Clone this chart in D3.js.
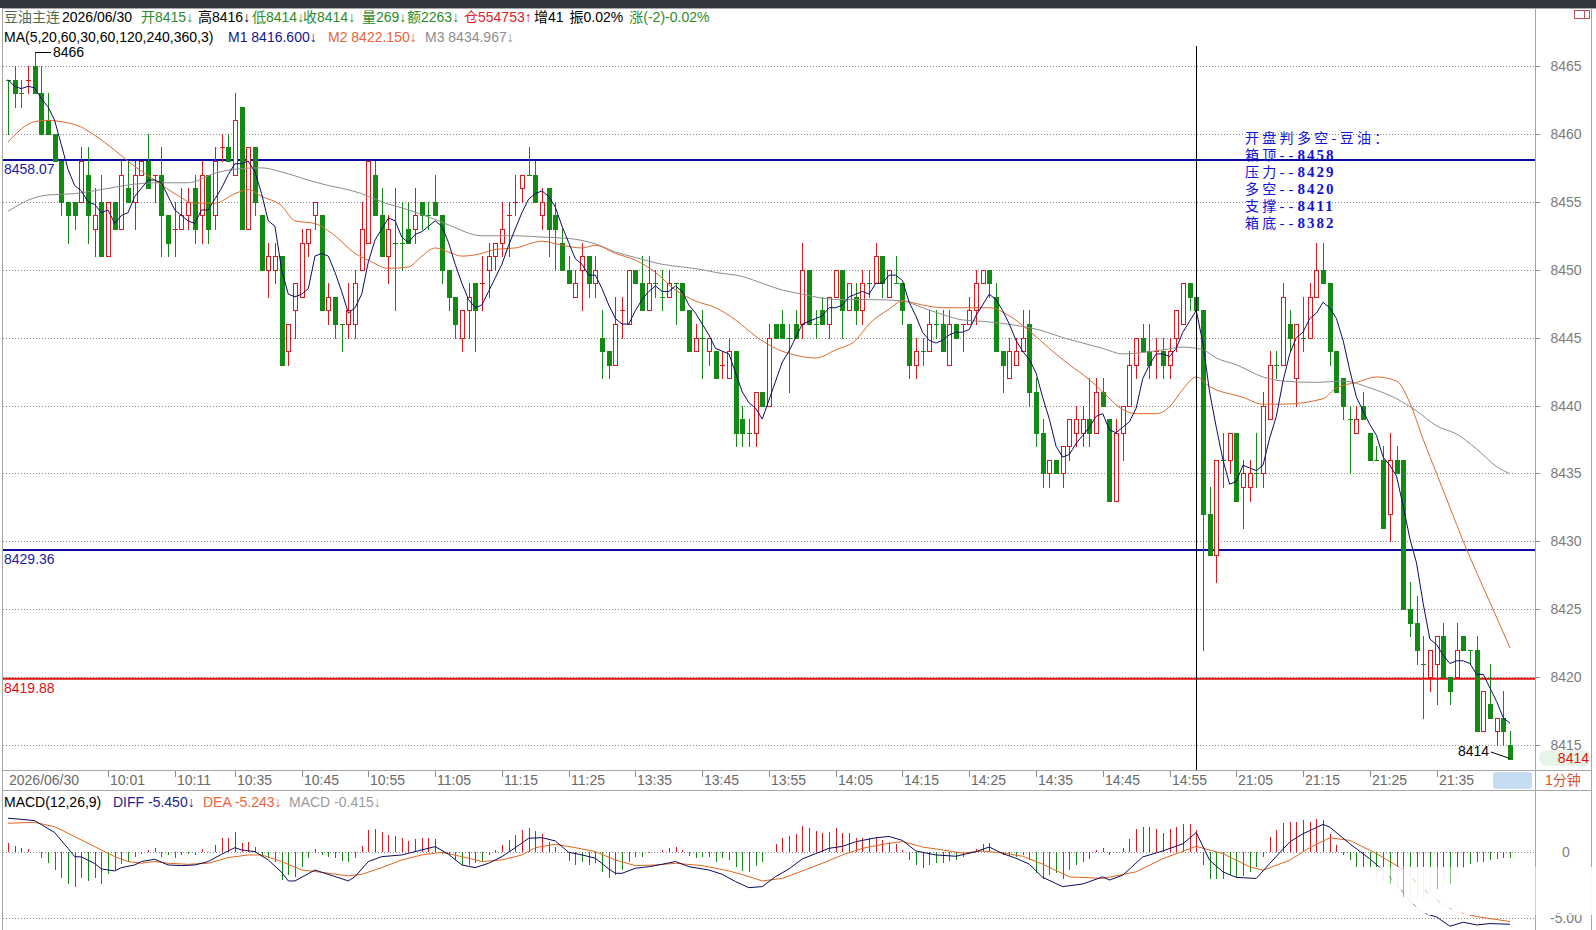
<!DOCTYPE html>
<html>
<head>
<meta charset="utf-8">
<script src="https://cdn.jsdelivr.net/npm/d3@7"></script>
<style>
  html, body { margin: 0; padding: 0; background: #fff; }
  svg { display: block; font-family: "Liberation Sans", Arial, "Noto Sans CJK SC", sans-serif; }
</style>
</head>
<body>
<svg id="chart" width="1596" height="930"></svg>
<script>
// 1-minute bars, 豆油主连 2026/06/30
const opens = [
  8464,8464,8463,8464,8465,8463,8461,8460,8458,8455, 8455,8455,8457,8453,8455,8451,8455,8453,8456,8455,
  8457,8458,8457,8457,8454,8453,8453,8454,8456,8454, 8457,8454,8459,8459,8457,8462,8453,8459,8454,8450,
  8450,8451,8444,8447,8448,8452,8454,8454,8447,8448, 8446,8446,8446,8450,8452,8457,8454,8451,8452,8452,
  8453,8453,8455,8454,8455,8454,8450,8448,8445,8447, 8449,8449,8450,8451,8452,8454,8455,8456,8457,8457,
  8454,8456,8454,8452,8450,8448,8450,8451,8449,8445, 8444,8443,8447,8446,8450,8449,8447,8449,8448,8448,
  8449,8449,8447,8444,8445,8444,8444,8443,8442,8444, 8439,8438,8438,8441,8440,8446,8446,8445,8446,8446,
  8450,8446,8447,8446,8448,8450,8447,8448,8447,8449, 8449,8451,8448,8449,8449,8446,8443,8444,8444,8446,
  8446,8443,8446,8446,8446,8447,8449,8450,8448,8444, 8442,8443,8444,8446,8441,8438,8435,8436,8435,8437,
  8438,8438,8439,8438,8441,8439,8433,8438,8440,8443, 8445,8444,8444,8444,8443,8445,8446,8449,8448,8447,
  8432,8429,8436,8436,8438,8434,8434,8435,8435,8439, 8443,8443,8446,8442,8445,8445,8448,8450,8449,8444,
  8442,8439,8438,8440,8438,8436,8436,8432,8436,8436, 8425,8424,8421,8420,8421,8423,8420,8420,8423,8422,
  8422,8416,8418,8416,8417,8415
]
const highs = [
  8464,8465,8464,8465,8466,8465,8463,8460,8458,8455, 8455,8459,8459,8456,8457,8455,8455,8458,8458,8458,
  8458,8460,8457,8459,8454,8455,8456,8456,8457,8458, 8457,8459,8460,8460,8463,8462,8459,8459,8454,8452,
  8452,8451,8446,8449,8453,8453,8455,8454,8449,8448, 8446,8449,8450,8455,8458,8458,8456,8454,8456,8455,
  8455,8456,8455,8455,8457,8454,8450,8448,8447,8449, 8449,8451,8452,8452,8455,8455,8457,8457,8459,8458,
  8456,8456,8455,8453,8451,8450,8452,8451,8451,8447, 8444,8448,8448,8450,8450,8451,8451,8450,8450,8450,
  8449,8449,8447,8446,8447,8445,8444,8444,8445,8444, 8440,8439,8441,8441,8446,8446,8447,8446,8447,8452,
  8450,8447,8448,8448,8450,8450,8449,8449,8450,8450, 8452,8451,8450,8451,8449,8446,8445,8445,8447,8447,
  8447,8447,8446,8446,8448,8450,8450,8450,8449,8444, 8445,8445,8447,8447,8442,8439,8436,8436,8437,8439,
  8440,8440,8442,8442,8442,8439,8439,8440,8444,8445, 8446,8446,8445,8445,8445,8447,8449,8449,8449,8447,
  8434,8436,8438,8438,8438,8436,8436,8438,8441,8444, 8444,8449,8447,8446,8448,8449,8452,8452,8449,8444,
  8442,8440,8440,8441,8438,8437,8437,8438,8437,8436, 8427,8426,8423,8422,8423,8424,8420,8424,8423,8422,
  8423,8419,8421,8417,8419,8416
]
const lows = [
  8460,8462,8462,8463,8463,8460,8460,8458,8454,8452, 8453,8455,8452,8451,8451,8451,8453,8453,8455,8453,
  8457,8456,8455,8451,8451,8451,8453,8453,8452,8452, 8452,8453,8458,8458,8457,8453,8453,8454,8450,8448,
  8449,8443,8443,8445,8448,8451,8453,8447,8446,8445, 8444,8445,8445,8450,8452,8454,8451,8449,8447,8450,
  8452,8452,8453,8453,8454,8449,8447,8445,8444,8445, 8444,8447,8448,8450,8451,8451,8454,8455,8457,8455,
  8453,8451,8450,8450,8449,8448,8447,8448,8448,8442, 8442,8443,8445,8446,8449,8447,8447,8448,8447,8448,
  8446,8447,8444,8444,8442,8443,8442,8442,8442,8437, 8437,8437,8437,8440,8440,8445,8445,8441,8445,8445,
  8446,8445,8446,8445,8448,8445,8447,8446,8446,8448, 8449,8448,8448,8449,8446,8442,8442,8443,8444,8445,
  8444,8443,8445,8444,8446,8446,8449,8448,8444,8441, 8442,8443,8444,8440,8437,8434,8434,8435,8434,8436,
  8437,8437,8437,8438,8440,8433,8433,8436,8440,8442, 8444,8442,8442,8442,8442,8444,8446,8447,8446,8422,
  8429,8427,8434,8435,8433,8431,8433,8434,8434,8439, 8442,8443,8444,8440,8444,8445,8448,8449,8443,8441,
  8439,8435,8438,8439,8436,8436,8431,8430,8435,8425, 8423,8421,8417,8419,8418,8420,8418,8420,8422,8421,
  8416,8416,8417,8415,8415,8414
]
const closes = [
  8464,8463,8463,8464,8463,8460,8460,8458,8455,8454, 8454,8458,8454,8454,8451,8455,8453,8457,8455,8457,
  8458,8456,8457,8454,8452,8453,8454,8455,8453,8457, 8453,8458,8459,8458,8461,8453,8459,8455,8450,8451,
  8451,8443,8446,8449,8452,8453,8455,8447,8448,8446, 8446,8447,8449,8453,8458,8454,8451,8453,8452,8452,
  8452,8454,8454,8454,8454,8450,8448,8446,8447,8448, 8447,8449,8451,8452,8453,8454,8455,8457,8457,8455,
  8455,8453,8453,8450,8449,8449,8451,8449,8450,8444, 8443,8446,8447,8450,8449,8447,8449,8449,8448,8449,
  8449,8447,8444,8445,8445,8445,8442,8443,8444,8438, 8438,8438,8441,8440,8445,8445,8445,8445,8445,8450,
  8446,8446,8446,8448,8450,8447,8449,8447,8449,8449, 8451,8449,8450,8449,8447,8443,8444,8444,8446,8446,
  8444,8446,8445,8446,8447,8449,8450,8449,8444,8443, 8444,8444,8445,8441,8438,8435,8436,8435,8437,8439,
  8439,8439,8438,8441,8440,8433,8438,8440,8443,8445, 8444,8443,8444,8443,8444,8447,8449,8448,8447,8432,
  8429,8436,8436,8438,8433,8435,8435,8435,8440,8443, 8443,8448,8445,8446,8445,8448,8450,8449,8444,8441,
  8440,8439,8439,8439,8436,8436,8431,8436,8435,8425, 8424,8422,8421,8422,8423,8420,8419,8422,8422,8422,
  8416,8419,8417,8417,8416,8414
]

// M2 and M3 as [bar index, value]
const ma20Pts = [
  [0,8459.4],[4,8460.9],[6,8461.0],[8,8460.9],[11,8460.5],[13,8459.9],[16,8458.8],[19,8457.6],[22,8456.6],
  [25,8455.6],[28,8454.9],[31,8454.9],[34,8455.6],[36,8455.9],[38,8455.4],[41,8454.7],[43,8453.6],[46,8453.4],
  [49,8452.5],[52,8451.2],[54,8450.7],[57,8450.1],[60,8450.2],[62,8451.0],[64,8451.6],[66,8451.3],[68,8451.0],
  [71,8451.2],[73,8451.5],[76,8451.6],[80,8452.1],[83,8451.8],[86,8451.6],[88,8451.8],[91,8451.2],[94,8450.7],
  [97,8449.8],[100,8448.5],[103,8447.7],[106,8447.2],[109,8446.3],[112,8445.1],[115,8444.2],[118,8443.7],
  [121,8443.5],[124,8444.1],[127,8444.8],[129,8446.0],[132,8447.1],[134,8447.7],[137,8447.4],[140,8447.2],
  [143,8447.2],[147,8447.2],[150,8446.6],[153,8445.5],[156,8444.2],[159,8443.0],[162,8441.9],[164,8441.0],
  [167,8439.7],[169,8439.4],[172,8439.4],[174,8439.9],[176,8441.2],[178,8442.1],[180,8441.4],[185,8440.6],
  [188,8440.1],[191,8440.1],[197,8440.5],[199,8441.3],[202,8441.7],[205,8442.1],[208,8441.8],[210,8440.2],
  [212,8437.5],[214,8435.0],[216,8432.5],[218,8430.0],[222,8425.5],[225,8422.15]
]
const ma60Pts = [
  [0,8454.3],[4,8455.3],[6,8455.5],[10,8455.6],[14,8455.9],[19,8456.3],[22,8456.4],[27,8456.4],[31,8457.1],
  [34,8457.4],[38,8457.5],[41,8457.2],[45,8456.6],[48,8456.2],[50,8456.0],[53,8455.6],[56,8455.0],[60,8454.4],
  [64,8453.7],[66,8453.3],[71,8452.5],[76,8452.5],[80,8452.4],[84,8452.3],[88,8451.9],[91,8451.3],[94,8450.9],
  [98,8450.4],[101,8450.2],[104,8450.0],[106,8449.8],[110,8449.5],[113,8449.0],[116,8448.5],[119,8448.2],
  [122,8447.9],[125,8447.8],[129,8447.8],[134,8447.7],[137,8447.2],[140,8446.7],[143,8446.3],[146,8446.2],
  [148,8446.1],[151,8445.9],[155,8445.5],[158,8445.0],[161,8444.6],[164,8444.2],[167,8443.8],[170,8443.9],
  [173,8444.1],[176,8444.3],[179,8444.1],[181,8443.5],[184,8443.0],[188,8442.1],[191,8441.8],[196,8441.7],
  [200,8441.8],[204,8441.3],[208,8440.5],[211,8439.6],[214,8438.5],[217,8437.9],[220,8436.8],[223,8435.5],
  [225,8434.97]
]

// MACD(12,26,9): DIFF and DEA read as [bar index, value], bars one per candle
const diffPts = [
  [0,2.58],[2,2.5],[4,2.4],[5,2.1],[7,1.5],[9,0.3],[10,-0.33],[11,-0.35],[13,-0.85],[14,-1.26],[16,-1.41],
  [17,-1.16],[19,-0.96],[20,-0.7],[22,-0.53],[24,-0.96],[26,-1.01],[28,-0.96],[30,-0.7],[32,-0.15],[34,0.35],
  [35,0.18],[37,0.05],[39,-0.58],[41,-1.52],[42,-2.17],[43,-2.17],[46,-1.34],[49,-1.84],[51,-2.17],[52,-1.84],
  [54,-0.7],[56,-0.33],[59,-0.2],[62,0.18],[64,0.43],[66,-0.15],[68,-0.96],[70,-1.16],[72,-0.83],[74,-0.33],
  [76,0.35],[78,1.06],[80,1.11],[82,0.86],[84,0],[86,-0.2],[88,-0.45],[90,-1.26],[91,-1.59],[92,-1.59],
  [94,-1.21],[96,-1.09],[98,-0.91],[100,-0.7],[102,-1.09],[105,-1.34],[107,-1.67],[109,-2.22],[111,-2.68],
  [113,-2.6],[115,-1.84],[117,-1.26],[119,-0.5],[121,-0.1],[123,0.3],[125,0.45],[127,0.8],[130,1.1],[132,1.2],
  [134,0.9],[136,0.1],[139,-0.2],[142,-0.3],[145,0.05],[147,0.4],[149,-0.1],[151,-0.45],[153,-0.9],[155,-1.9],
  [158,-2.6],[161,-2.4],[164,-1.86],[165,-2.1],[167,-1.73],[170,-0.35],[173,0.1],[176,0.65],[178,1.5],
  [180,-0.6],[182,-1.48],[184,-1.9],[187,-1.98],[189,-0.85],[192,0.78],[194,1.41],[197,2.11],[198,1.91],
  [201,0.65],[204,-0.5],[206,-1.36],[208,-2.4],[210,-3.7],[212,-4.6],[214,-4.9],[216,-5.6],[218,-5.3],
  [220,-5.5],[222,-5.4],[225,-5.45]
]
const deaPts = [
  [0,2.2],[4,2.27],[7,1.94],[10,1.19],[13,0.43],[16,-0.33],[18,-0.7],[20,-0.83],[22,-0.7],[24,-0.83],
  [27,-0.91],[30,-0.83],[33,-0.4],[36,-0.2],[38,-0.2],[41,-0.7],[44,-1.34],[47,-1.52],[51,-1.79],[53,-1.67],
  [56,-1.16],[59,-0.58],[62,-0.2],[65,0],[68,-0.33],[71,-0.7],[74,-0.58],[77,-0.2],[79,0.35],[82,0.61],
  [85,0.35],[88,0.05],[91,-0.58],[94,-1.01],[97,-0.96],[100,-0.83],[104,-1.01],[108,-1.41],[111,-1.84],
  [113,-2.17],[116,-1.97],[119,-1.41],[122,-0.83],[125,-0.2],[128,0.3],[131,0.6],[134,0.82],[137,0.4],
  [140,0.18],[143,-0.06],[146,0.1],[149,-0.05],[152,-0.3],[155,-0.9],[159,-1.86],[164,-1.98],[169,-1.48],
  [173,-0.48],[178,0.45],[182,-0.1],[186,-1.1],[188,-1.36],[192,-0.6],[195,0.35],[198,1.1],[201,0.9],
  [205,-0.1],[209,-1.3],[211,-2.3],[213,-3.2],[215,-4.0],[217,-4.5],[220,-4.87],[225,-5.243]
]
const macdBars = [
  0.68,0.5,0.3,0.25,0.05,-0.45,-0.83,-1.34,-1.92,-2.42, -2.6,-1.97,-2.17,-1.97,-2.42,-1.67,-1.41,-0.91,-0.7,-0.33,
  -0.15,0.18,0.35,-0.33,-0.2,-0.4,-0.2,-0.15,-0.2,0.25, 0.05,0.56,1.06,1.11,1.57,0.68,0.8,0.43,-0.33,-0.45,
  -0.7,-2.1,-1.72,-1.84,-1.09,-0.45,0.25,-0.2,-0.33,-0.45, -0.66,-0.7,-0.4,0.5,1.69,1.77,1.57,1.31,1.26,1.06,
  0.86,1.01,1.11,1.06,1.01,-0.15,-0.2,-0.58,-0.96,-0.96, -0.83,-0.7,-0.2,0.18,0.56,0.93,1.31,1.69,1.87,1.62,
  1.36,0.8,0.43,0.05,-0.66,-0.96,-0.7,-0.96,-0.83,-1.52, -1.97,-1.72,-1.34,-0.7,-0.33,-0.33,-0.05,0.05,0.18,0.35,
  0.43,0.18,-0.25,-0.4,-0.35,-0.35,-0.7,-0.45,-0.58,-1.09, -1.41,-1.52,-1.01,-0.76,0.05,0.61,1.06,1.26,1.36,2.02,
  1.87,1.62,1.44,1.52,1.82,1.44,1.44,1.11,1.11,1.06, 1.19,0.93,0.8,0.61,0.18,-0.58,-0.96,-1.16,-0.96,-0.83,
  -0.83,-0.66,-0.58,-0.33,-0.1,0.25,0.61,0.68,0.05,-0.2, -0.25,-0.33,-0.2,-0.6,-1.6,-2.0,-1.73,-1.6,-2.0,-1.36,
  -0.98,-0.73,-0.48,0.15,0.35,-0.23,-0.05,0.35,1.03,1.78, 1.91,1.91,1.78,1.46,1.78,1.91,2.16,2.11,1.66,-0.98,
  -2.06,-2.06,-2.06,-1.73,-1.98,-1.81,-1.48,-1.1,-0.35,1.16, 1.66,2.21,2.29,2.29,2.41,2.29,2.54,2.41,1.41,0.53,
  -0.23,-0.6,-1.2,-1.4,-1.6,-1.9,-2.2,-2.4,-2.8,-3.4, -3.6,-3.6,-3.4,-3.0,-2.8,-2.6,-2.4,-1.9,-1.2,-0.9,
  -0.75,-0.7,-0.6,-0.5,-0.45,-0.415
]

const tickIdx = [15,25,34,44,54,64,74,84,94,104,114,124,134,144,154,164,174,184,194,204,214]
const tickLabels = ['10:01','10:11','10:35','10:45','10:55','11:05','11:15','11:25','13:35','13:45','13:55',
  '14:05','14:15','14:25','14:35','14:45','14:55','21:05','21:15','21:25','21:35']
const priceTicks = [8415,8420,8425,8430,8435,8440,8445,8450,8455,8460,8465]
const macdTicks = [0, -5]
const levels = [8458.07, 8429.36, 8419.88]
const annoTitle = '开盘判多空-豆油：'
const annoNames = ['箱顶','压力','多空','支撑','箱底']
const annoValues = [8458, 8429, 8420, 8411, 8382]
const cursorIdx = 178

const RED = '#e3141c'
const GREEN = '#138a13'
const plotL = 3
const plotR = 1535
const svg = d3.select('#chart')

const x = d3.scaleLinear().domain([0, closes.length - 1]).range([7.9, 1510])
const y = d3.scaleLinear().domain([8415, 8465]).range([745, 66])
const ym = d3.scaleLinear().domain([-5, 0]).range([918.3, 852.3])
const px = i => Math.round(x(i))

// frame
svg.append('rect').attr('x', 0).attr('y', 0).attr('width', 1596).attr('height', 8).attr('fill', '#34373e')
const frame = svg.append('g').attr('stroke', '#a6a6a6').attr('shape-rendering', 'crispEdges')
frame.append('line').attr('x1', 2.5).attr('x2', 2.5).attr('y1', 8).attr('y2', 930)
frame.append('line').attr('x1', plotR + 0.5).attr('x2', plotR + 0.5).attr('y1', 8).attr('y2', 930)
frame.append('line').attr('x1', 1591.5).attr('x2', 1591.5).attr('y1', 8).attr('y2', 930)
frame.append('line').attr('x1', 2).attr('x2', 1596).attr('y1', 8.5).attr('y2', 8.5)
frame.append('line').attr('x1', 2).attr('x2', 1592).attr('y1', 770.5).attr('y2', 770.5)
frame.append('line').attr('x1', 2).attr('x2', 1592).attr('y1', 790.5).attr('y2', 790.5)
svg.append('rect').attr('x', 1574.5).attr('y', 10.5).attr('width', 15).attr('height', 8)
  .attr('fill', 'none').attr('stroke', '#c0504d')
svg.append('line').attr('x1', 1584.5).attr('x2', 1584.5).attr('y1', 10.5).attr('y2', 18.5).attr('stroke', '#c0504d')

// grid + right axis
const grid = svg.append('g').attr('stroke', '#8a8a8a').attr('stroke-dasharray', '1,2')
grid.selectAll('line.p').data(priceTicks).join('line')
  .attr('x1', plotL).attr('x2', plotR).attr('y1', d => Math.round(y(d)) + 0.5).attr('y2', d => Math.round(y(d)) + 0.5)
grid.selectAll('line.m').data(macdTicks).join('line').attr('class', 'm')
  .attr('x1', plotL).attr('x2', plotR).attr('y1', d => Math.round(ym(d)) + 0.5).attr('y2', d => Math.round(ym(d)) + 0.5)

svg.append('g').selectAll('line').data(priceTicks).join('line')
  .attr('x1', plotR).attr('x2', plotR + 5).attr('y1', d => Math.round(y(d)) + 0.5).attr('y2', d => Math.round(y(d)) + 0.5)
  .attr('stroke', '#8a8a8a')

// level lines
const levelColor = ['#0a0aa0', '#0a0aa0', '#e01010']
levels.forEach((v, k) => {
  svg.append('line').attr('x1', plotL).attr('x2', plotR).attr('y1', y(v)).attr('y2', y(v))
    .attr('stroke', levelColor[k]).attr('stroke-width', 2)
})

// candles
const candles = svg.append('g').attr('shape-rendering', 'crispEdges')
closes.forEach((c, i) => {
  const o = opens[i]
  const up = c > o || (c === o && i > 0 && c > closes[i - 1])
  const col = up ? RED : GREEN
  const cx = px(i)
  candles.append('line').attr('x1', cx + 0.5).attr('x2', cx + 0.5)
    .attr('y1', Math.round(y(highs[i]))).attr('y2', Math.round(y(lows[i])) + 1).attr('stroke', col)
  const yt = Math.round(y(Math.max(o, c)))
  const yb = Math.round(y(Math.min(o, c)))
  if (c === o) {
    candles.append('line').attr('x1', cx - 2).attr('x2', cx + 3)
      .attr('y1', yt + 0.5).attr('y2', yt + 0.5).attr('stroke', col)
  } else if (up) {
    candles.append('rect').attr('x', cx - 1.5).attr('y', yt + 0.5).attr('width', 4).attr('height', yb - yt)
      .attr('fill', '#fff').attr('stroke', col)
  } else {
    candles.append('rect').attr('x', cx - 2).attr('y', yt).attr('width', 5).attr('height', Math.max(1, yb - yt + 1))
      .attr('fill', col)
  }
})

// moving averages: M1 is the 5-bar mean of the closes, as in the legend
const ma5 = closes.map((c, i) => d3.mean(closes.slice(Math.max(0, i - 4), i + 1)))
const lineIdx = d3.line().x((d, i) => x(i)).y(d => y(d))
const linePts = d3.line().x(d => x(d[0])).y(d => y(d[1])).curve(d3.curveMonotoneX)
svg.append('path').attr('d', linePts(ma60Pts)).attr('fill', 'none').attr('stroke', '#8c8c8c')
svg.append('path').attr('d', linePts(ma20Pts)).attr('fill', 'none').attr('stroke', '#dc6a2e')
svg.append('path').attr('d', lineIdx(ma5)).attr('fill', 'none').attr('stroke', '#0c0c66')

// level labels
levels.forEach((v, k) => {
  svg.append('text').attr('x', 4).attr('y', y(v) + 14).attr('font-size', 14)
    .attr('fill', k === 2 ? '#e01010' : '#1a1aa8').text(d3.format('.2f')(v))
})

// cursor
svg.append('line').attr('x1', px(cursorIdx) + 0.5).attr('x2', px(cursorIdx) + 0.5)
  .attr('y1', 46).attr('y2', 770).attr('stroke', '#000')

// high / last markers
const hiIdx = highs.indexOf(d3.max(highs))
svg.append('line').attr('x1', px(hiIdx) + 0.5).attr('x2', 51).attr('y1', Math.round(y(highs[hiIdx])) + 0.5)
  .attr('y2', Math.round(y(highs[hiIdx])) + 0.5).attr('stroke', '#000')
svg.append('text').attr('x', 53).attr('y', y(highs[hiIdx]) + 5).attr('font-size', 14).text(highs[hiIdx])
const last = closes.length - 1
svg.append('line').attr('x1', 1491).attr('y1', 752).attr('x2', px(last)).attr('y2', y(lows[last])).attr('stroke', '#000')
svg.append('text').attr('x', 1458).attr('y', 756).attr('font-size', 14).text(lows[last])

// annotation box
const anno = svg.append('g').attr('fill', '#1212d4')
const cjk = sel => sel.attr('font-family', '"Noto Sans CJK SC", sans-serif').attr('font-size', 14)
  .attr('letter-spacing', 3.3).attr('font-weight', 'normal')
const num = sel => sel.attr('font-family', '"Liberation Serif", serif').attr('font-size', 15)
  .attr('letter-spacing', 2).attr('font-weight', 'bold')
anno.append('text').attr('x', 1245).attr('y', 143).call(cjk).text(annoTitle)
annoNames.forEach((n, k) => {
  const t = anno.append('text').attr('x', 1245).attr('y', 160 + k * 17)
  t.append('tspan').call(cjk).text(n)
  t.append('tspan').call(num).attr('font-weight', 'normal').attr('letter-spacing', 4).text('--')
  t.append('tspan').call(num).text(annoValues[k])
})

// header
const head1 = [
  [4, '豆油主连', '#4f6a4f'], [62, '2026/06/30', '#000'], [141, '开8415↓', '#2c8c2c'], [198, '高8416↓', '#000'],
  [252, '低8414↓', '#2c8c2c'], [303, '收8414↓', '#2c8c2c'], [362, '量269↓', '#2c8c2c'], [407, '额2263↓', '#2c8c2c'],
  [464, '仓554753↑', '#e0202c'], [534, '增41', '#000']
]
const headY1 = 22
head1.forEach(d => svg.append('text').attr('x', d[0]).attr('y', headY1).attr('font-size', 14).attr('fill', d[2]).text(d[1]))
let hx = 534
const tail = [['振0.02%', '#000'], ['涨(-2)-0.02%', '#2c8c2c']]
const prev = svg.selectAll('text').filter(function () { return this.textContent === '增41' }).node()
hx += prev.getComputedTextLength() + 6
tail.forEach(d => {
  const t = svg.append('text').attr('x', hx).attr('y', headY1).attr('font-size', 14).attr('fill', d[1]).text(d[0])
  hx += t.node().getComputedTextLength() + 6
})
const head2 = [
  [4, 'MA(5,20,60,30,60,120,240,360,3)', '#000'], [228, 'M1 8416.600↓', '#16168c'],
  [328, 'M2 8422.150↓', '#e8643a'], [425, 'M3 8434.967↓', '#8c8c8c']
]
head2.forEach(d => svg.append('text').attr('x', d[0]).attr('y', 42).attr('font-size', 14).attr('fill', d[2]).text(d[1]))

// price axis labels
const axisTxt = svg.append('g').attr('font-size', 14).attr('fill', '#7c7c7c').attr('text-anchor', 'middle')
axisTxt.selectAll('text').data(priceTicks).join('text')
  .attr('x', 1566).attr('y', d => y(d) + 5).text(d => d)

// time axis
const tAx = svg.append('g')
tAx.selectAll('line').data(tickIdx).join('line')
  .attr('x1', d => px(d) + 0.5).attr('x2', d => px(d) + 0.5).attr('y1', 771).attr('y2', 777).attr('stroke', '#8a8a8a')
tAx.selectAll('text').data(tickLabels).join('text')
  .attr('x', (d, k) => px(tickIdx[k]) + 2).attr('y', 785).attr('font-size', 14).attr('fill', '#6a6a6a').text(d => d)
tAx.append('text').attr('x', 9).attr('y', 785).attr('font-size', 14).attr('fill', '#6a6a6a').text('2026/06/30')
svg.append('rect').attr('x', 1493).attr('y', 772).attr('width', 39).attr('height', 17).attr('rx', 3).attr('fill', '#c6dcf3')
svg.append('text').attr('x', 1545).attr('y', 785).attr('font-size', 14).attr('fill', '#d9502a').text('1分钟')
svg.append('rect').attr('x', 1539).attr('y', 750).attr('width', 52).attr('height', 16).attr('rx', 8).attr('fill', '#e9f4e9')
svg.append('text').attr('x', 1589).attr('y', 763).attr('text-anchor', 'end').attr('font-size', 14)
  .attr('fill', '#e01010').text(closes[last])

// MACD panel
const bars = svg.append('g').attr('shape-rendering', 'crispEdges')
bars.selectAll('line').data(macdBars).join('line')
  .attr('x1', (d, i) => px(i) + 0.5).attr('x2', (d, i) => px(i) + 0.5)
  .attr('y1', ym(0)).attr('y2', d => ym(d)).attr('stroke', d => d >= 0 ? RED : GREEN)
const lineM = d3.line().x(d => x(d[0])).y(d => ym(d[1]))
svg.append('path').attr('d', lineM(deaPts)).attr('fill', 'none').attr('stroke', '#e0661e')
svg.append('path').attr('d', lineM(diffPts)).attr('fill', 'none').attr('stroke', '#0c0c5e')

// faded overlay over the lower right of the MACD panel
const veil = svg.append('g')
veil.append('rect').attr('x', 1354).attr('y', 867).attr('width', 242).attr('height', 48).attr('fill', '#fff').attr('opacity', 0.5)
d3.range(1356, 1596, 12).forEach(sx => {
  veil.append('rect').attr('x', sx).attr('y', 867).attr('width', 9).attr('height', 48).attr('fill', '#fff').attr('opacity', 0.85)
})

const macdHead = [
  [4, 'MACD(12,26,9)', '#000'], [113, 'DIFF -5.450↓', '#1e1e8c'],
  [203, 'DEA -5.243↓', '#f0643c'], [289, 'MACD -0.415↓', '#9a9a9a']
]
macdHead.forEach(d => svg.append('text').attr('x', d[0]).attr('y', 806.5).attr('font-size', 14).attr('fill', d[2]).text(d[1]))
axisTxt.append('text').attr('x', 1566).attr('y', ym(0) + 5).text('0')
axisTxt.append('text').attr('x', 1566).attr('y', ym(-5) + 5).text('-5.00')
</script>
</body>
</html>
